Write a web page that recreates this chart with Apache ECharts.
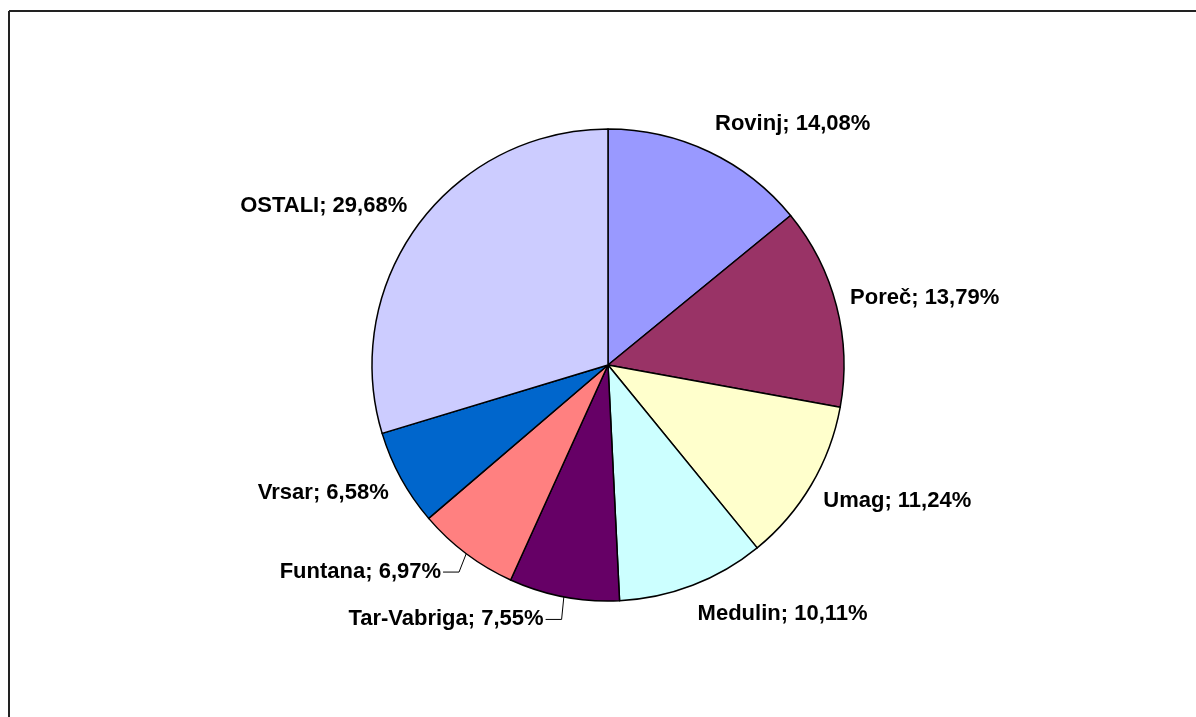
<!DOCTYPE html>
<html>
<head>
<meta charset="utf-8">
<script src="https://cdn.jsdelivr.net/npm/echarts@6/dist/echarts.min.js"></script>
<style>
html,body{margin:0;padding:0;background:#fff;}
#chart{width:1196px;height:717px;}
</style>
</head>
<body>
<div id="chart"></div>
<script>
const categories = ['Rovinj', 'Poreč', 'Umag', 'Medulin', 'Tar-Vabriga', 'Funtana', 'Vrsar', 'OSTALI'];
const shares = [14.08, 13.79, 11.24, 10.11, 7.55, 6.97, 6.58, 29.68];
const colors = ['#9999FF', '#993366', '#FFFFCC', '#CCFFFF', '#660066', '#FF8080', '#0066CC', '#CCCCFF'];
const leaderLabels = ['Tar-Vabriga', 'Funtana'];

const CX = 608, CY = 365, R = 236, FS = 22;
const total = shares.reduce((a, b) => a + b, 0);

function midAngle(i) {
  let s = 0;
  for (let k = 0; k < i; k++) s += shares[k];
  return (s + shares[i] / 2) / total * Math.PI * 2;
}

const chart = echarts.init(document.getElementById('chart'));
chart.setOption({
  backgroundColor: '#ffffff',
  animation: false,
  graphic: [
    { type: 'line', shape: { x1: 9, y1: 11, x2: 1196, y2: 11 }, style: { stroke: '#222', lineWidth: 2 } },
    { type: 'line', shape: { x1: 9, y1: 11, x2: 9, y2: 717 }, style: { stroke: '#222', lineWidth: 2 } }
  ],
  series: [{
    type: 'pie',
    center: [CX, CY],
    radius: R,
    startAngle: 90,
    clockwise: true,
    avoidLabelOverlap: false,
    itemStyle: { borderColor: '#000', borderWidth: 1.5 },
    label: {
      show: true,
      position: 'outside',
      fontFamily: '"Liberation Sans", Arial, sans-serif',
      fontWeight: 'bold',
      fontSize: FS,
      color: '#000',
      formatter: p => p.name + '; ' + p.value.toFixed(2).replace('.', ',') + '%'
    },
    labelLine: { show: false, lineStyle: { color: '#000', width: 1 } },
    emphasis: { disabled: true },
    labelLayout: function (params) {
      const i = params.dataIndex;
      const a = midAngle(i);
      const dx = Math.sin(a), dy = -Math.cos(a);
      const w = params.labelRect.width;
      if (leaderLabels.indexOf(categories[i]) >= 0) {
        const ex = CX + R * dx, ey = CY + R * dy;
        const ly = CY + (R + 23) * dy;
        const bx = CX + (R + 12) * dx;
        const endX = bx - 16;
        return {
          x: endX - 2, y: ly, align: 'right', verticalAlign: 'middle',
          labelLinePoints: [[ex, ey], [bx, ly], [endX, ly]]
        };
      }
      const ax = CX + (R + 14) * dx, ay = CY + (R + 14) * dy;
      return {
        x: ax + Math.sign(dx) * w / 2,
        y: ay + dy * FS * 0.75,
        align: 'center', verticalAlign: 'middle'
      };
    },
    data: categories.map((c, i) => ({
      name: c,
      value: shares[i],
      itemStyle: { color: colors[i] },
      labelLine: { show: leaderLabels.indexOf(c) >= 0 }
    }))
  }]
});
</script>
</body>
</html>
